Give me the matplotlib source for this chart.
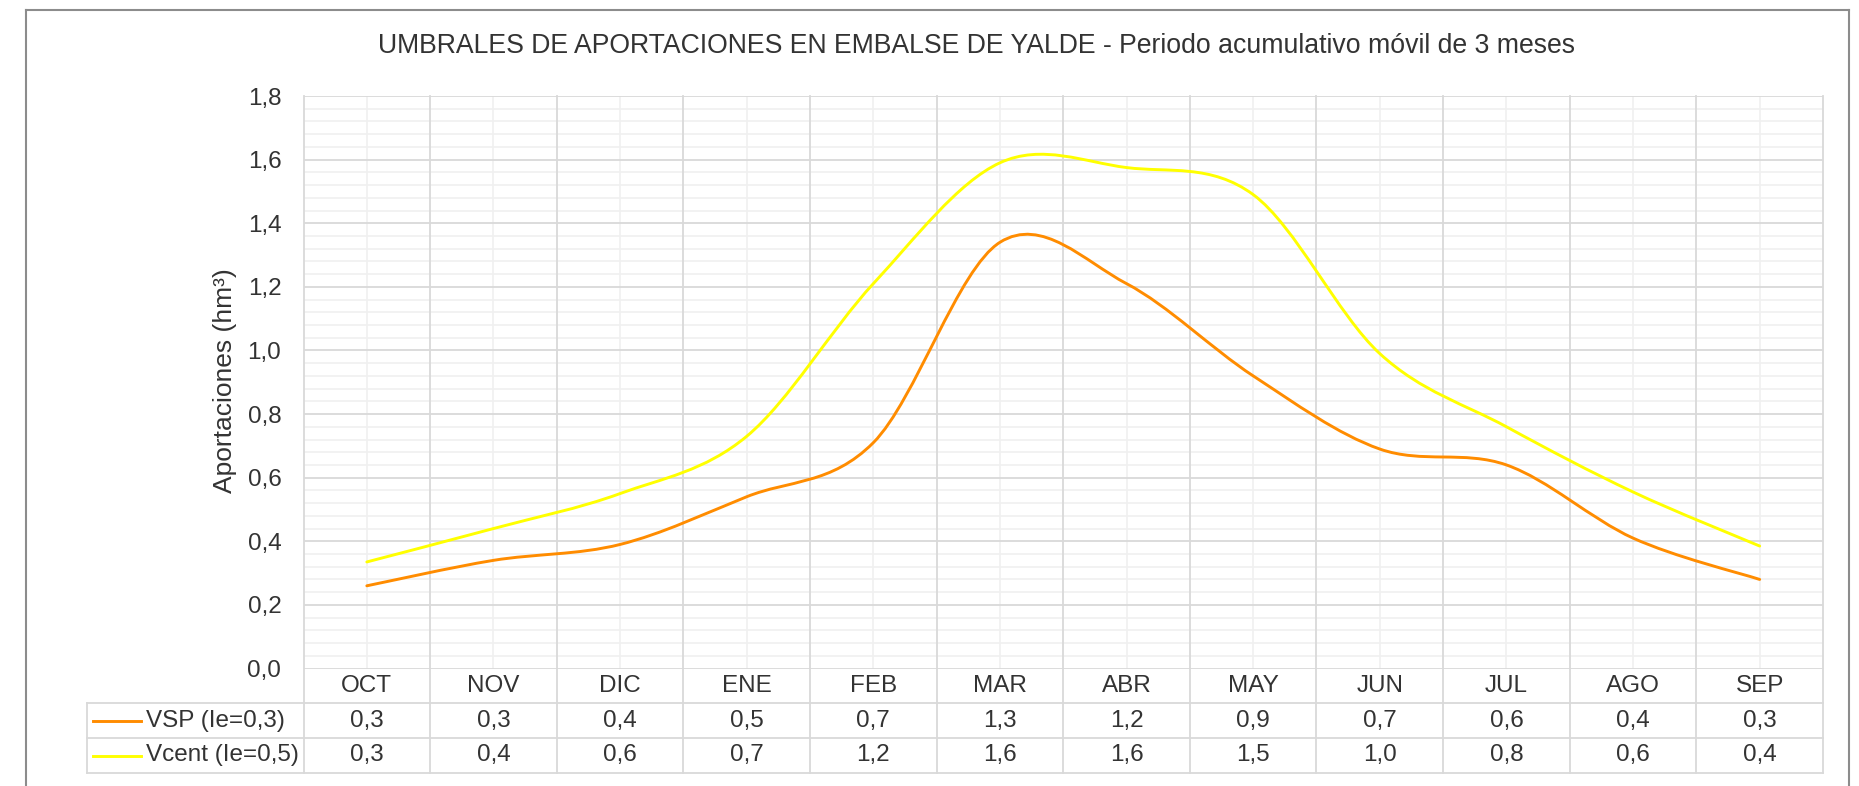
import matplotlib.pyplot as plt
import matplotlib.transforms as mtransforms
from matplotlib.path import Path
from matplotlib.patches import PathPatch
from matplotlib.lines import Line2D
import numpy as np

plt.rcParams['font.family'] = ['Liberation Sans', 'DejaVu Sans']

months = ['OCT', 'NOV', 'DIC', 'ENE', 'FEB', 'MAR', 'ABR', 'MAY', 'JUN', 'JUL', 'AGO', 'SEP']
vsp = [0.26, 0.34, 0.39, 0.54, 0.71, 1.34, 1.21, 0.92, 0.69, 0.64, 0.41, 0.28]
vcent = [0.335, 0.44, 0.55, 0.73, 1.21, 1.59, 1.575, 1.49, 0.99, 0.76, 0.555, 0.385]
series_names = ['VSP (Ie=0,3)', 'Vcent (Ie=0,5)']
series_colors = ['#FF8C00', '#FFFF00']
title = 'UMBRALES DE APORTACIONES EN EMBALSE DE YALDE - Periodo acumulativo móvil de 3 meses'
ylabel = 'Aportaciones (hm³)'

W, H = 1859, 786
fig = plt.figure(figsize=(W / 100, H / 100), dpi=100)

# plot area in pixels
px_left, px_right, px_top, px_bot = 303.5, 1823, 96, 668.5
ax = fig.add_axes([px_left / W, 1 - px_bot / H, (px_right - px_left) / W, (px_bot - px_top) / H])
ax.set_xlim(-0.5, 11.5)
ax.set_ylim(0, 1.8)
for s in ax.spines.values():
    s.set_visible(False)

major = '#D9D9D9'
minor = '#F0F0F0'
# minor horizontal gridlines
for v in np.arange(0.04, 1.8, 0.04):
    if abs(v / 0.2 - round(v / 0.2)) > 1e-6:
        ax.axhline(v, color=minor, lw=1.2, zorder=0)
for v in np.arange(0, 1.81, 0.2):
    ax.axhline(v, color=major, lw=1.3, zorder=0.5)
# vertical gridlines
for i in range(12):
    ax.axvline(i, color=minor, lw=1.2, zorder=0)

ax.set_yticks(np.arange(0, 1.81, 0.2))
ax.set_yticklabels([f'{v:.1f}'.replace('.', ',') for v in np.arange(0, 1.81, 0.2)])
ax.tick_params(axis='y', length=0, pad=16, labelsize=17.5, labelcolor='#333333')
ax.set_xticks([])


def smooth_path(xs, ys):
    # excel-like bezier smoothing through the points
    pts = list(zip(xs, ys))
    verts = [pts[0]]
    codes = [Path.MOVETO]
    n = len(pts)
    for i in range(n - 1):
        p0 = pts[i - 1] if i > 0 else pts[i]
        p1 = pts[i]
        p2 = pts[i + 1]
        p3 = pts[i + 2] if i + 2 < n else pts[i + 1]
        c1 = (p1[0] + (p2[0] - p0[0]) / 6, p1[1] + (p2[1] - p0[1]) / 6)
        c2 = (p2[0] - (p3[0] - p1[0]) / 6, p2[1] - (p3[1] - p1[1]) / 6)
        verts += [c1, c2, p2]
        codes += [Path.CURVE4] * 3
    return Path(verts, codes)


x = list(range(12))
for vals, col in zip([vsp, vcent], series_colors):
    ax.add_patch(PathPatch(smooth_path(x, vals), fill=False, edgecolor=col, lw=2.1, zorder=3,
                           capstyle='round', joinstyle='round'))

# data table below the plot
tr = mtransforms.blended_transform_factory(ax.transData, fig.transFigure)
def fy(py):
    return 1 - py / H

row_y = [668.5, 703, 738, 773]
tab_left = 87
for i in range(13):
    ax.add_line(Line2D([i - 0.5, i - 0.5], [fy(px_top), fy(row_y[-1])], transform=tr,
                       color=major, lw=1.3, clip_on=False, zorder=1))
for py in row_y[1:]:
    fig.add_artist(Line2D([tab_left / W, px_right / W], [fy(py), fy(py)], color=major, lw=1.3))
fig.add_artist(Line2D([tab_left / W, tab_left / W], [fy(row_y[1]), fy(row_y[-1])], color=major, lw=1.3))

txt_col = '#333333'
fs = 17.5
hy = (row_y[0] + row_y[1]) / 2
for i, m in enumerate(months):
    ax.text(i, fy(hy), m, transform=tr, ha='center', va='center', fontsize=fs, color=txt_col)

for r, (name, vals, col) in enumerate(zip(series_names, [vsp, vcent], series_colors)):
    cy = (row_y[r + 1] + row_y[r + 2]) / 2
    fig.add_artist(Line2D([93 / W, 141 / W], [fy(cy), fy(cy)], color=col, lw=2.1))
    fig.text(146 / W, fy(cy), name, ha='left', va='center', fontsize=fs, color=txt_col)
    for i, v in enumerate(vals):
        ax.text(i, fy(cy), f'{v:.1f}'.replace('.', ','), transform=tr, ha='center', va='center',
                fontsize=fs, color=txt_col)

fig.text(976 / W, fy(46), title, ha='center', va='center', fontsize=19.2, color=txt_col)
fig.text(225 / W, fy(381), ylabel, ha='center', va='center', rotation=90, fontsize=19, color=txt_col)

# outer chart border
bcol = '#8C8C8C'
fig.add_artist(Line2D([26 / W, 26 / W], [0, fy(10)], color=bcol, lw=1.5))
fig.add_artist(Line2D([26 / W, 1849 / W], [fy(10), fy(10)], color=bcol, lw=1.5))
fig.add_artist(Line2D([1849 / W, 1849 / W], [0, fy(10)], color=bcol, lw=1.5))

fig.savefig('out.png', dpi=100)
